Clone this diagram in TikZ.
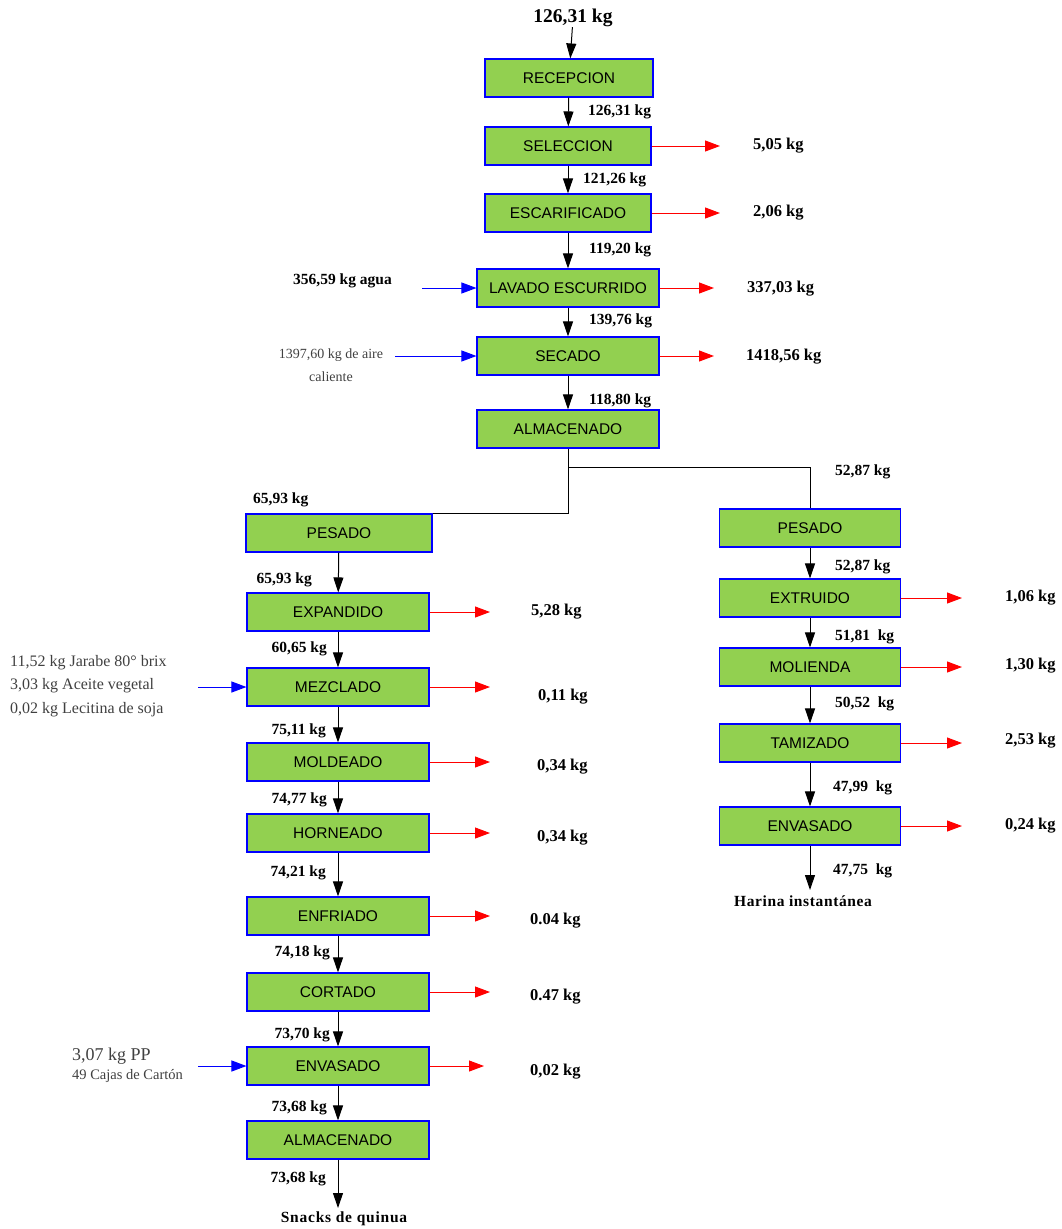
\documentclass[tikz,border=0pt]{standalone}
\usepackage{fontspec}
\setmainfont{Liberation Serif}
\newfontfamily\boxfont{Liberation Sans}
\usetikzlibrary{arrows.meta}
\definecolor{procgreen}{HTML}{92D050}
\definecolor{notegray}{HTML}{404040}

\begin{document}
\begin{tikzpicture}[x=1pt, y=-1pt,
	proc/.style={draw=blue, line width=1.1pt, fill=procgreen, minimum height=38pt, minimum width=182pt, inner sep=0pt, font=\boxfont\fontsize{15.5}{17}\selectfont},
	flow/.style={-{Triangle[length=15pt,width=10pt]}, line width=1pt},
	waste/.style={-{Triangle[length=15pt,width=11pt]}, line width=1pt, red},
	feed/.style={-{Triangle[length=15pt,width=11pt]}, line width=1pt, blue},
	qty/.style={font=\bfseries\fontsize{15.5}{17}\selectfont, inner sep=0pt},
	loss/.style={font=\bfseries\fontsize{16.5}{18}\selectfont, inner sep=0pt},
	note/.style={font=\fontsize{14}{23}\selectfont, text=notegray, inner sep=0pt}]
	\useasboundingbox (0,0) rectangle (1062,1229);
	
	% main line
	\node[qty, font=\bfseries\fontsize{19.5}{21}\selectfont] (feed0) at (573,18) {126,31 kg};
	\node[proc, minimum width=168pt] (recep) at (569,78) {RECEPCION};
	\node[proc, minimum width=166pt] (selec) at (568,146) {SELECCION};
	\node[proc, minimum width=166pt] (escar) at (568,213) {ESCARIFICADO};
	\node[proc] (lavad) at (568,288) {LAVADO ESCURRIDO};
	\node[proc] (secad) at (568,356) {SECADO};
	\node[proc] (almac) at (568,429) {ALMACENADO};
	
	\draw[flow] (feed0) -- (recep);
	\draw[flow] (recep) -- (selec);
	\draw[flow] (selec) -- (escar);
	\draw[flow] (escar) -- (lavad);
	\draw[flow] (lavad) -- (secad);
	\draw[flow] (secad) -- (almac);
	
	\node[qty, anchor=west] at (588,112) {126,31 kg};
	\node[qty, anchor=west] at (583,180) {121,26 kg};
	\node[qty, anchor=west] at (589,250) {119,20 kg};
	\node[qty, anchor=west] at (589,321) {139,76 kg};
	\node[qty, anchor=west] at (589,401) {118,80 kg};
	
	\coordinate (wselec) at (720,146);
	\coordinate (wescar) at (720,213);
	\coordinate (wlavad) at (714,288);
	\coordinate (wsecad) at (714,356);
	\draw[waste] (selec) -- (wselec);
	\draw[waste] (escar) -- (wescar);
	\draw[waste] (lavad) -- (wlavad);
	\draw[waste] (secad) -- (wsecad);
	\node[loss, anchor=west] at (753,146) {5,05 kg};
	\node[loss, anchor=west] at (753,213) {2,06 kg};
	\node[loss, anchor=west] at (747,289) {337,03 kg};
	\node[loss, anchor=west] at (746,357) {1418,56 kg};
	
	\node[qty, anchor=east] at (392,281) {356,59 kg agua};
	\node[note, align=center] at (331,365) {1397,60 kg de aire\\caliente};
	\coordinate (flavad) at (422,288);
	\coordinate (fsecad) at (395,356);
	\draw[feed] (flavad) -- (lavad);
	\draw[feed] (fsecad) -- (secad);
	
	% snacks line
	\node[proc, minimum width=186pt] (pesL) at (339,533) {PESADO};
	\node[proc] (expan) at (338,612) {EXPANDIDO};
	\node[proc] (mezcl) at (338,687) {MEZCLADO};
	\node[proc] (molde) at (338,762) {MOLDEADO};
	\node[proc] (horne) at (338,833) {HORNEADO};
	\node[proc] (enfri) at (338,916) {ENFRIADO};
	\node[proc] (corta) at (338,992) {CORTADO};
	\node[proc] (envL) at (338,1066) {ENVASADO};
	\node[proc] (almL) at (338,1140) {ALMACENADO};
	\node[qty, font=\bfseries\fontsize{15.5}{17}\selectfont\addfontfeature{LetterSpace=5}] (snacks) at (344,1219) {Snacks de quinua};
	\coordinate (snackend) at (338,1208);
	
	\draw[line width=1pt] (almac.south) -- ++(0,19) coordinate (split) -| (810,509);
	\draw[line width=1pt] (split) |- (pesL.north east);
	
	\draw[flow] (pesL) -- (expan);
	\draw[flow] (expan) -- (mezcl);
	\draw[flow] (mezcl) -- (molde);
	\draw[flow] (molde) -- (horne);
	\draw[flow] (horne) -- (enfri);
	\draw[flow] (enfri) -- (corta);
	\draw[flow] (corta) -- (envL);
	\draw[flow] (envL) -- (almL);
	\draw[flow] (almL) -- (snackend);
	
	\node[qty, anchor=west] at (253,500) {65,93 kg};
	\node[qty, anchor=east] at (312,580) {65,93 kg};
	\node[qty, anchor=east] at (327,649) {60,65 kg};
	\node[qty, anchor=east] at (326,731) {75,11 kg};
	\node[qty, anchor=east] at (327,800) {74,77 kg};
	\node[qty, anchor=east] at (326,873) {74,21 kg};
	\node[qty, anchor=east] at (330,953) {74,18 kg};
	\node[qty, anchor=east] at (330,1035) {73,70 kg};
	\node[qty, anchor=east] at (327,1108) {73,68 kg};
	\node[qty, anchor=east] at (326,1179) {73,68 kg};
	
	\coordinate (wexpan) at (490,612);
	\coordinate (wmezcl) at (490,687);
	\coordinate (wmolde) at (490,762);
	\coordinate (whorne) at (490,833);
	\coordinate (wenfri) at (490,916);
	\coordinate (wcorta) at (490,992);
	\coordinate (wenvL) at (484,1066);
	\draw[waste] (expan) -- (wexpan);
	\draw[waste] (mezcl) -- (wmezcl);
	\draw[waste] (molde) -- (wmolde);
	\draw[waste] (horne) -- (whorne);
	\draw[waste] (enfri) -- (wenfri);
	\draw[waste] (corta) -- (wcorta);
	\draw[waste] (envL) -- (wenvL);
	\node[loss, anchor=west] at (531,612) {5,28 kg};
	\node[loss, anchor=west] at (538,697) {0,11 kg};
	\node[loss, anchor=west] at (537,767) {0,34 kg};
	\node[loss, anchor=west] at (537,838) {0,34 kg};
	\node[loss, anchor=west] at (530,921) {0.04 kg};
	\node[loss, anchor=west] at (530,997) {0.47 kg};
	\node[loss, anchor=west] at (530,1072) {0,02 kg};
	
	\node[note, align=left, anchor=west, font=\fontsize{16}{23.5}\selectfont] at (10,686) {11,52 kg Jarabe 80° brix\\3,03 kg Aceite vegetal\\0,02 kg Lecitina de soja};
	\node[note, align=left, anchor=north west, font=\fontsize{14.5}{23}\selectfont] at (72,1048) {{\fontsize{18}{20}\selectfont 3,07 kg PP}\\[-4pt]49 Cajas de Cartón};
	\coordinate (fmezcl) at (198,687);
	\coordinate (fenvL) at (198,1066);
	\draw[feed] (fmezcl) -- (mezcl);
	\draw[feed] (fenvL) -- (envL);
	
	% flour line
	\node[proc, minimum width=181pt] (pesR) at (810,528) {PESADO};
	\node[proc, minimum width=181pt] (extru) at (810,598) {EXTRUIDO};
	\node[proc, minimum width=181pt] (molie) at (810,667) {MOLIENDA};
	\node[proc, minimum width=181pt] (tamiz) at (810,743) {TAMIZADO};
	\node[proc, minimum width=181pt] (envR) at (810,826) {ENVASADO};
	\node[qty, font=\bfseries\fontsize{15.5}{17}\selectfont\addfontfeature{LetterSpace=4}] (harina) at (803,901) {Harina instantánea};
	\coordinate (harinaend) at (810,890);
	
	\draw[flow] (pesR) -- (extru);
	\draw[flow] (extru) -- (molie);
	\draw[flow] (molie) -- (tamiz);
	\draw[flow] (tamiz) -- (envR);
	\draw[flow] (envR) -- (harinaend);
	
	\node[qty, anchor=west] at (835,472) {52,87 kg};
	\node[qty, anchor=west] at (835,567) {52,87 kg};
	\node[qty, anchor=west] at (835,637) {51,81~ kg};
	\node[qty, anchor=west] at (835,704) {50,52~ kg};
	\node[qty, anchor=west] at (833,788) {47,99~ kg};
	\node[qty, anchor=west] at (833,871) {47,75~ kg};
	
	\coordinate (wextru) at (962,598);
	\coordinate (wmolie) at (962,667);
	\coordinate (wtamiz) at (962,743);
	\coordinate (wenvR) at (962,826);
	\draw[waste] (extru) -- (wextru);
	\draw[waste] (molie) -- (wmolie);
	\draw[waste] (tamiz) -- (wtamiz);
	\draw[waste] (envR) -- (wenvR);
	\node[loss, anchor=west] at (1005,598) {1,06 kg};
	\node[loss, anchor=west] at (1005,666) {1,30 kg};
	\node[loss, anchor=west] at (1005,741) {2,53 kg};
	\node[loss, anchor=west] at (1005,826) {0,24 kg};
\end{tikzpicture}
\end{document}
